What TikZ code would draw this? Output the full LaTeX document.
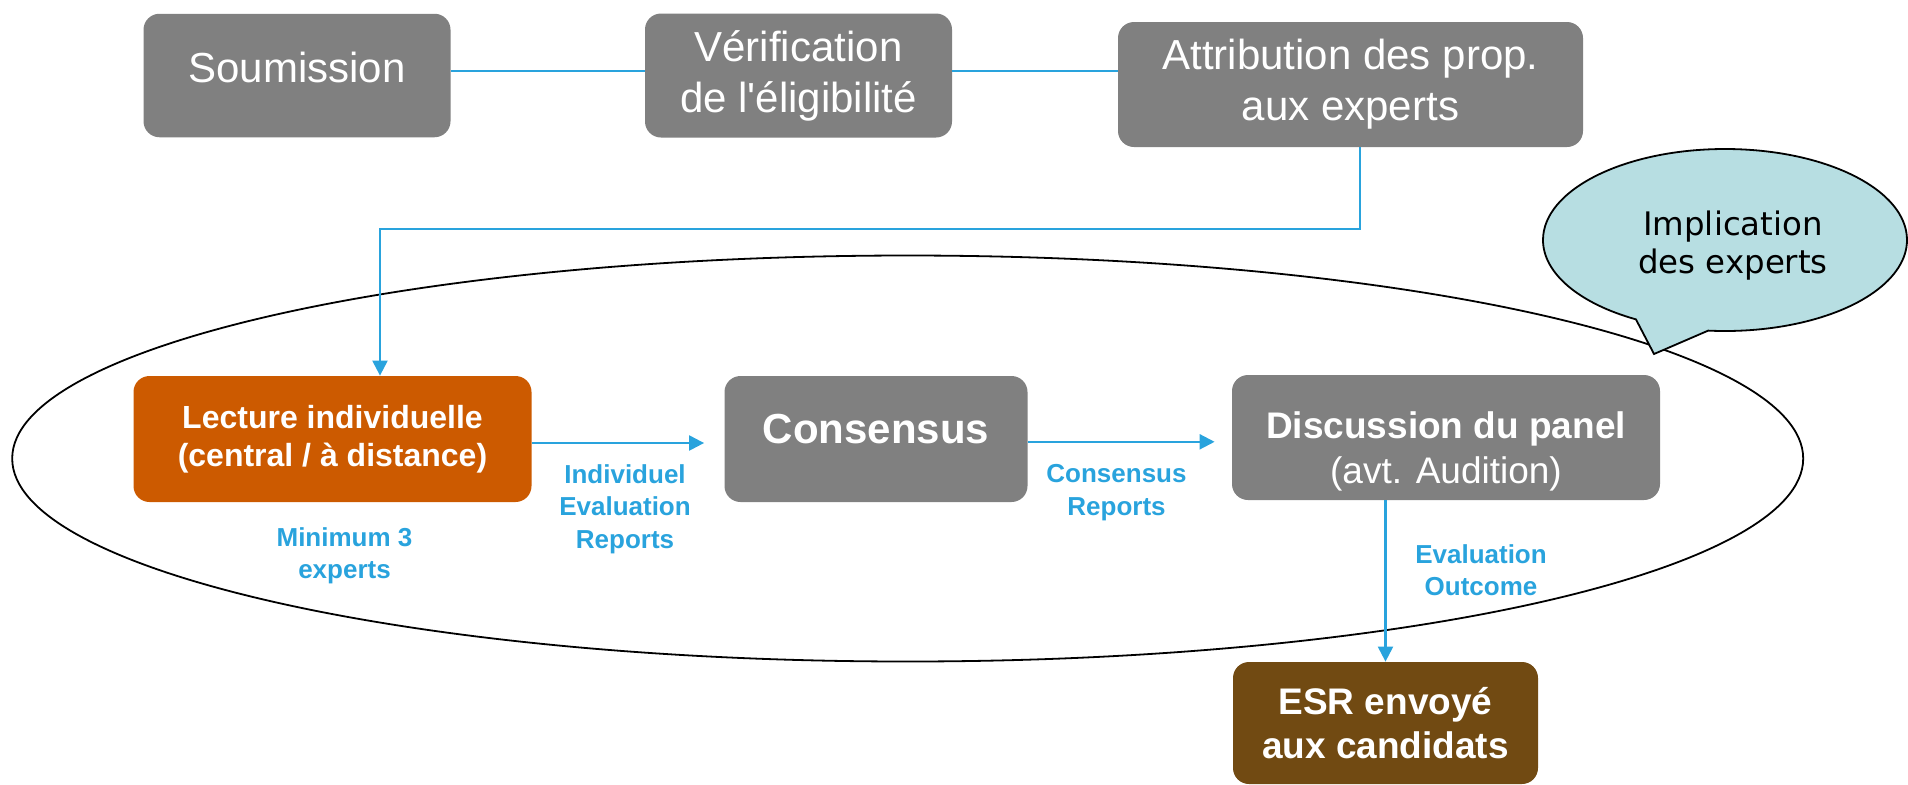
\documentclass[tikz,border=0pt]{standalone}
\usepackage{fontspec}
\setmainfont{Liberation Sans}
\newfontfamily\bubblefont{DejaVu Sans}
\usetikzlibrary{shapes.callouts,arrows.meta}
\definecolor{boxgray}{RGB}{128,128,128}
\definecolor{lectorange}{RGB}{204,90,0}
\definecolor{esrbrown}{RGB}{113,74,18}
\definecolor{flowblue}{RGB}{41,163,221}
\definecolor{bubbleteal}{RGB}{183,222,226}

\begin{document}
\begin{tikzpicture}[x=0.5pt, y=-0.5pt,
    stepbox/.style={rounded corners=8pt, inner sep=0pt, align=center, text=white},
    graybox/.style={stepbox, fill=boxgray, font=\fontsize{21}{25.5}\selectfont},
    flow/.style={draw=flowblue, line width=1.1pt},
    arrowflow/.style={flow, -{Triangle[length=7.5pt,width=7.5pt]}},
    flowlabel/.style={text=flowblue, align=center, font=\bfseries\fontsize{13}{16.25}\selectfont}]
    \useasboundingbox (0,0) rectangle (1908,784);
    % Node
    \node[graybox, minimum width=153.5pt, minimum height=61.75pt] (soum) at (297,75.5) {Soumission\rule[-8pt]{0pt}{8pt}};
    \node[graybox, minimum width=153.5pt, minimum height=62pt] (verif) at (798.5,75.5) {Vérification\\de l\textquotesingle éligibilité};
    \node[graybox, minimum width=232.5pt, minimum height=62.5pt] (attrib) at (1350.5,84.5) {Attribution des prop.\\aux experts};
    \node[stepbox, fill=lectorange, minimum width=199pt, minimum height=63pt, font=\bfseries\fontsize{16}{18.8}\selectfont] (lecture) at (332.5,439) {Lecture individuelle\\(central / à distance)};
    \node[graybox, minimum width=151.5pt, minimum height=63pt, font=\bfseries\fontsize{21}{25}\selectfont] (consensus) at (876,439) {Consensus\rule[-10pt]{0pt}{10pt}};
    \node[graybox, minimum width=214pt, minimum height=62.5pt, font=\fontsize{18.5}{22.5}\selectfont] (disc) at (1446,437.5) {\rule{0pt}{27pt}\textbf{Discussion du panel}\\(avt. Audition)};
    \node[stepbox, fill=esrbrown, minimum width=152.5pt, minimum height=61pt, font=\bfseries\fontsize{18.5}{21.75}\selectfont] (esr) at (1385.5,723) {ESR envoyé\\aux candidats};
    % Labels
    \node[flowlabel] (minexp) at (344.5,556) {Minimum 3\\experts};
    \node[flowlabel] (ier) at (625,509) {Individuel\\Evaluation\\Reports};
    \node[flowlabel] (crep) at (1116.5,492.5) {Consensus\\Reports};
    \node[flowlabel] (evout) at (1481,570) {Evaluation\\Outcome};
    % Ellipse and bubble
    \draw[line width=0.9pt] (907.7,458.5) ellipse [x radius=447.75pt, y radius=101.5pt];
    \node[ellipse callout, draw=black, fill=bubbleteal, line width=0.9pt, minimum width=182pt, minimum height=91pt, inner sep=0pt,
          callout absolute pointer={(1654,354)}, callout pointer arc=24, align=center,
          font=\bubblefont\fontsize{16.2}{19}\selectfont] (bubble) at (1725,240)
          {\hspace*{8pt}\rule{0pt}{18pt}Implication\\\hspace*{8pt}des experts};
    % Lines
    \draw[flow] ([yshift=2.4pt]soum.east) -- ([yshift=2.4pt]verif.west);
    \draw[flow] ([yshift=2.4pt]verif.east) -- ([yshift=2.4pt]verif.east -| attrib.west);
    \draw[arrowflow] ([xshift=4.75pt]attrib.south) -- ++(0,81.5) -| ([xshift=23.75pt]lecture.north);
    \draw[arrowflow, shorten >=10pt] ([yshift=-2pt]lecture.east) -- ([yshift=-2pt]consensus.west);
    \draw[arrowflow, shorten >=8.5pt] ([yshift=-1.4pt]consensus.east) -- ([yshift=-1.4pt]consensus.east -| disc.west);
    \draw[arrowflow] (disc.south -| esr.north) -- (esr.north);
\end{tikzpicture}
\end{document}
